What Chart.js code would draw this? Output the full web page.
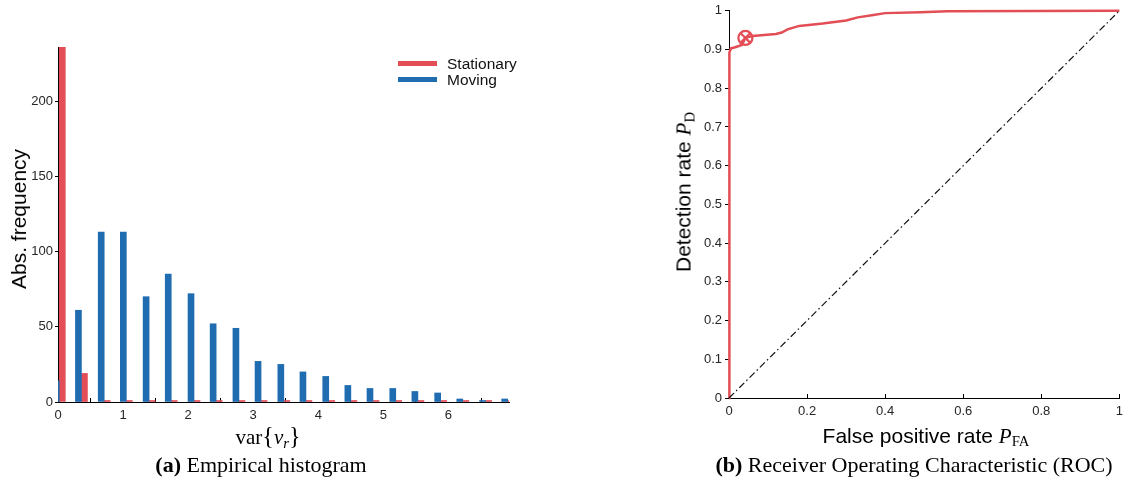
<!doctype html>
<html>
<head>
<meta charset="utf-8">
<title>Histogram and ROC</title>
<script src="https://cdn.jsdelivr.net/npm/chart.js@4.4.0/dist/chart.umd.min.js"></script>
<style>
body { margin:0; background:#fff; }
#page { position:relative; width:1133px; height:484px; overflow:hidden; font-family:"Liberation Sans", Arial, sans-serif; }
canvas { position:absolute; }
.txt { position:absolute; white-space:nowrap; color:#000; }
.serif { font-family:"Liberation Serif", "Times New Roman", serif; }
.math { font-family:"Liberation Serif", "Times New Roman", serif; font-style:italic; }
.rot { transform:translate(-50%,-50%) rotate(-90deg); }
.ctr { transform:translate(-50%,-50%); }
sub { font-size:70%; vertical-align:-0.25em; line-height:0; }
.brace { font-size:115%; }
#legend { position:absolute; left:398px; top:56px; width:140px; height:34px; }
#legend div { position:absolute; left:0; height:16px; line-height:16px; font-size:15.5px; color:#111; white-space:nowrap; }
#legend span { display:inline-block; width:39px; height:5px; vertical-align:middle; margin-right:10px; margin-top:-2px; }
</style>
</head>
<body>
<div id="page">
  <canvas id="histChart" width="540" height="430" style="left:0;top:0"></canvas>
  <canvas id="rocChart" width="493" height="430" style="left:640px;top:0"></canvas>

  <div id="legend">
    <div style="top:0"><span style="background:#e34d55"></span>Stationary</div>
    <div style="top:16px"><span style="background:#1f6cb0"></span>Moving</div>
  </div>

  <div class="txt rot" style="left:19px;top:219px;font-size:21px">Abs. frequency</div>
  <div class="txt ctr serif" style="left:268px;top:436px;font-size:21px">var<span class="brace">{</span><span class="math">v<sub>r</sub></span><span class="brace">}</span></div>
  <div class="txt ctr serif" style="left:261px;top:465px;font-size:22px"><b>(a)</b> Empirical histogram</div>

  <div class="txt rot" style="left:684px;top:192px;font-size:21px">Detection rate <span class="math">P</span><sub class="serif">D</sub></div>
  <div class="txt ctr" style="left:926px;top:436px;font-size:21px">False positive rate <span class="math">P</span><sub class="serif">FA</sub></div>
  <div class="txt ctr serif" style="left:914px;top:465px;font-size:22px"><b>(b)</b> Receiver Operating Characteristic (ROC)</div>
</div>

<script>
// histogram bins of var{v_r}
const binCentres = [0.02, 0.36, 0.71, 1.05, 1.40, 1.74, 2.09, 2.43, 2.78, 3.12, 3.47,
                    3.81, 4.16, 4.50, 4.84, 5.19, 5.53, 5.88, 6.22, 6.57, 6.91];
const stationaryCounts = [236, 19, 0, 0, 0, 0, 0, 0, 0, 0, 0, 0, 0, 0, 0, 0, 0, 0, 0, 0, 0];
const movingCounts = [14, 61, 113, 113, 70, 85, 72, 52, 49, 27, 25, 20, 17, 11, 9, 9, 7, 6, 2, 1, 2];

// ROC curve (false positive rate vs detection rate)
const rocFpr = [0, 0, 0.002, 0.005, 0.016, 0.033, 0.042, 0.06, 0.12, 0.135, 0.15, 0.18,
                0.24, 0.30, 0.33, 0.37, 0.40, 0.49, 0.56, 1];
const rocPd  = [0, 0.88, 0.892, 0.903, 0.906, 0.912, 0.93, 0.935, 0.94, 0.944, 0.952, 0.961,
                0.967, 0.975, 0.983, 0.989, 0.994, 0.996, 0.999, 1];
const opPoint = { fpr: 0.042, pd: 0.93 };
const chanceLine = [0, 1];

const RED = '#e34d55';
const BLUE = '#1f6cb0';
const tickFont = { family: 'Liberation Sans, Arial, sans-serif', size: 13 };

function pairs(xs, ys) {
  return xs.map((x, i) => ({ x: x, y: ys[i] }));
}
// 0.1 -> "0.1", 1.0 -> "1"
const plainNum = v => String(Number(v.toFixed(2)));

new Chart(document.getElementById('histChart'), {
  type: 'bar',
  data: {
    datasets: [
      { label: 'Moving', data: pairs(binCentres, movingCounts), backgroundColor: BLUE,
        barThickness: 6 },
      { label: 'Stationary', data: pairs(binCentres, stationaryCounts), backgroundColor: RED,
        barThickness: 6, minBarLength: 1.5 }
    ]
  },
  options: {
    responsive: false,
    animation: false,
    devicePixelRatio: 1,
    layout: { padding: { top: 47, right: 31, left: 0, bottom: 0 } },
    plugins: { legend: { display: false }, tooltip: { enabled: false } },
    scales: {
      x: {
        type: 'linear', min: 0, max: 6.93, offset: false,
        ticks: { stepSize: 1, includeBounds: false, padding: 10, color: '#262626', font: tickFont,
                 maxRotation: 0, callback: plainNum },
        grid: { drawOnChartArea: false, drawTicks: true, tickLength: -4, color: '#000' },
        border: { color: '#000', width: 1 },
        afterFit: s => { s.height = 28; }
      },
      y: {
        min: 0, max: 236,
        ticks: { stepSize: 50, includeBounds: false, padding: 2, color: '#262626', font: tickFont,
                 callback: plainNum },
        grid: { drawOnChartArea: false, drawTicks: true, tickLength: 3, color: '#000' },
        border: { color: '#000', width: 1 },
        afterFit: s => { s.width = 58; }
      }
    }
  }
});

new Chart(document.getElementById('rocChart'), {
  type: 'scatter',
  data: {
    datasets: [
      { data: pairs(chanceLine, chanceLine), showLine: true, borderColor: '#111', borderWidth: 1.2,
        borderDash: [7, 3, 1.5, 3], pointRadius: 0, clip: false },
      { data: pairs(rocFpr, rocPd), showLine: true, borderColor: RED, borderWidth: 2.5,
        pointRadius: 0, tension: 0, clip: false },
      { data: [{ x: opPoint.fpr, y: opPoint.pd }], pointStyle: 'circle', pointRadius: 7,
        pointBorderColor: RED, pointBorderWidth: 2.2, pointBackgroundColor: 'rgba(0,0,0,0)', clip: false },
      { data: [{ x: opPoint.fpr, y: opPoint.pd }], pointStyle: 'crossRot', pointRadius: 7,
        pointBorderColor: RED, pointBorderWidth: 2.2, clip: false }
    ]
  },
  options: {
    responsive: false,
    animation: false,
    devicePixelRatio: 1,
    layout: { padding: { top: 6, right: 12, left: 0, bottom: 0 } },
    plugins: { legend: { display: false }, tooltip: { enabled: false } },
    scales: {
      x: {
        type: 'linear', min: 0, max: 1,
        ticks: { stepSize: 0.2, padding: 10, color: '#262626', font: tickFont, maxRotation: 0,
                 callback: plainNum },
        grid: { drawOnChartArea: false, drawTicks: true, tickLength: -4, color: '#000' },
        border: { color: '#000', width: 1 },
        afterFit: s => { s.height = 32; }
      },
      y: {
        type: 'linear', min: 0, max: 1,
        ticks: { stepSize: 0.1, padding: 3, color: '#262626', font: tickFont, callback: plainNum },
        grid: { drawOnChartArea: false, drawTicks: true, tickLength: 4, color: '#000' },
        border: { color: '#000', width: 1 },
        afterFit: s => { s.width = 89; }
      }
    }
  }
});
</script>
</body>
</html>
